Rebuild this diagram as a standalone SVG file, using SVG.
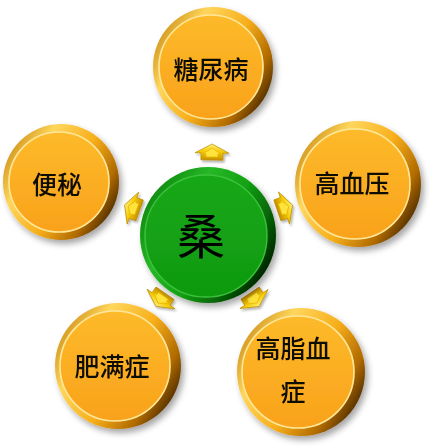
<svg xmlns="http://www.w3.org/2000/svg" width="434" height="446" viewBox="0 0 434 446">
<defs>
<style>
.lbl{font-family:"Noto Sans CJK SC","Noto Sans CJK JP",sans-serif;font-size:25px;font-weight:500;fill:#0d0a04;text-anchor:middle;dominant-baseline:central}
.big{font-size:48px;font-weight:400;fill:#000}
.orim{fill:url(#oRim)}
.oface{fill:url(#oFace);stroke:#FFE79A;stroke-width:1.6}
.grim{fill:url(#gRim)}
.gface{fill:url(#gFace);stroke:#3CC23C;stroke-width:1.4}
.arr{fill:url(#aFill);stroke:#B88A00;stroke-width:0.7}
.arrIn{fill:#FFE33A;stroke:#E0AE00;stroke-width:0.6}
</style>
<linearGradient id="oRim" x1="0" y1="0.2" x2="1" y2="0.8">
<stop offset="0" stop-color="#C88A12"/>
<stop offset="0.25" stop-color="#FFD65C"/>
<stop offset="0.55" stop-color="#F7AE1A"/>
<stop offset="0.8" stop-color="#B06A00"/>
<stop offset="1" stop-color="#2E1900"/>
</linearGradient>
<linearGradient id="oFace" x1="0" y1="0" x2="0" y2="1">
<stop offset="0" stop-color="#FDBA2A"/>
<stop offset="1" stop-color="#F9A21B"/>
</linearGradient>
<linearGradient id="gRim" x1="0" y1="0.2" x2="1" y2="0.8">
<stop offset="0" stop-color="#0A800A"/>
<stop offset="0.3" stop-color="#26B826"/>
<stop offset="0.55" stop-color="#12A012"/>
<stop offset="0.8" stop-color="#055805"/>
<stop offset="1" stop-color="#000E00"/>
</linearGradient>
<linearGradient id="gFace" x1="0" y1="0" x2="0" y2="1">
<stop offset="0" stop-color="#15A815"/>
<stop offset="1" stop-color="#109A10"/>
</linearGradient>
<linearGradient id="aFill" x1="0" y1="0" x2="0" y2="1">
<stop offset="0" stop-color="#FFF27A"/>
<stop offset="0.5" stop-color="#F5C800"/>
<stop offset="1" stop-color="#C89200"/>
</linearGradient>
<filter id="sh" x="-20%" y="-20%" width="150%" height="150%">
<feDropShadow dx="3" dy="4" stdDeviation="3" flood-color="#000" flood-opacity="0.35"/>
</filter>
<filter id="ash" x="-50%" y="-50%" width="200%" height="200%">
<feDropShadow dx="1.5" dy="2" stdDeviation="1.2" flood-color="#000" flood-opacity="0.3"/>
</filter>
<g id="arrowShape">
<polygon class="arr" points="0,-9 17,0 11,0 11,7 -11,7 -11,0 -17,0"/>
<polygon class="arrIn" points="0,-5 9,1 6,1 6,4 -6,4 -6,1 -9,1"/>
</g>
</defs>

<g id="connectors" filter="url(#ash)">
<use href="#arrowShape" transform="translate(212,153) rotate(1)"/>
<use href="#arrowShape" transform="translate(284,208) rotate(71)"/>
<use href="#arrowShape" transform="translate(133,208) rotate(-70)"/>
<use href="#arrowShape" transform="translate(161,299) rotate(-145)"/>
<use href="#arrowShape" transform="translate(254,299) rotate(146)"/>
</g>

<g id="node-sang" filter="url(#sh)">
<circle class="grim" cx="208" cy="235" r="68"/>
<circle class="gface" cx="206" cy="236" r="61"/>
<text class="lbl big" x="201" y="233">桑</text>
</g>

<g id="node-tangniaobing" filter="url(#sh)">
<circle class="orim" cx="213" cy="67" r="60"/>
<circle class="oface" cx="211" cy="67" r="52"/>
<text class="lbl" x="211" y="68">糖尿病</text>
</g>

<g id="node-gaoxueya" filter="url(#sh)">
<circle class="orim" cx="358" cy="184" r="63"/>
<circle class="oface" cx="355" cy="184" r="55"/>
<text class="lbl" x="352" y="182">高血压</text>
</g>

<g id="node-bianmi" filter="url(#sh)">
<circle class="orim" cx="61" cy="182" r="58"/>
<circle class="oface" cx="59" cy="182" r="50"/>
<text class="lbl" x="57" y="183">便秘</text>
</g>

<g id="node-feimanzheng" filter="url(#sh)">
<circle class="orim" cx="118" cy="366" r="63"/>
<circle class="oface" cx="115" cy="366" r="55"/>
<text class="lbl" x="112" y="365">肥满症</text>
</g>

<g id="node-gaozhixuezheng" filter="url(#sh)">
<circle class="orim" cx="301" cy="372" r="64"/>
<circle class="oface" cx="298" cy="372" r="56"/>
<text class="lbl" x="293" y="347">高脂血</text>
<text class="lbl" x="293" y="390">症</text>
</g>
</svg>
